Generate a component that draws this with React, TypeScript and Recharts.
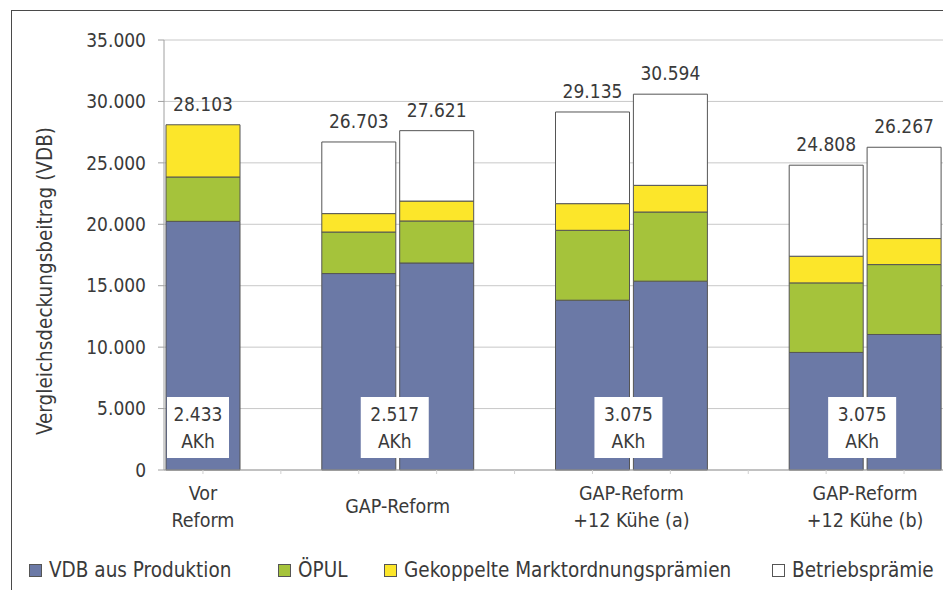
import { BarChart, Bar, XAxis, YAxis, CartesianGrid, LabelList } from "recharts";

const FONT = "'DejaVu Sans Condensed', 'DejaVu Sans', sans-serif";
const TEXT = "#3a3a3a";

// groups shown on the x axis
const groups = [
  { lines: ["Vor", "Reform"], akh: "2.433" },
  { lines: ["GAP-Reform"], akh: "2.517" },
  { lines: ["GAP-Reform", "+12 Kühe (a)"], akh: "3.075" },
  { lines: ["GAP-Reform", "+12 Kühe (b)"], akh: "3.075" },
];

// one entry per slot on the axis, null = spacer between groups
const slotGroup = [0, null, 1, 1, null, 2, 2, null, 3, 3];

// bar values, one per real bar
const vdb = [20240, 15990, 16850, 13820, 15370, 9570, 11030];
const oepul = [3610, 3380, 3420, 5690, 5630, 5660, 5690];
const gekoppelt = [4250, 1500, 1620, 2170, 2170, 2170, 2120];
const betrieb = [0, 5830, 5730, 7460, 7420, 7410, 7430];
const totals = [28103, 26703, 27621, 29135, 30594, 24808, 26267];

const yTicks = [0, 5000, 10000, 15000, 20000, 25000, 30000, 35000];

const series = [
  { key: "vdb", name: "VDB aus Produktion", color: "#6b79a6" },
  { key: "oepul", name: "ÖPUL", color: "#a5c33b" },
  { key: "gek", name: "Gekoppelte Marktordnungsprämien", color: "#fce62a" },
  { key: "bp", name: "Betriebsprämie", color: "#ffffff" },
];
const legendLeft = [29, 278, 384, 772];

const fmt = (v: number) => String(v).replace(/\B(?=(\d{3})+(?!\d))/g, ".");

let barIdx = 0;
const data = slotGroup.map((g, i) => {
  if (g === null) return { slot: "s" + i };
  const b = barIdx++;
  const first = i === 0 || slotGroup[i - 1] !== g;
  return {
    slot: "s" + i,
    vdb: vdb[b],
    oepul: oepul[b],
    gek: gekoppelt[b],
    bp: betrieb[b],
    // total label goes on whichever segment is on top
    totalGek: betrieb[b] > 0 ? null : totals[b],
    totalBp: betrieb[b] > 0 ? totals[b] : null,
    akhGroup: first ? g : null,
  };
});

const W = 943;
const H = 590;
const LEFT = 164;
const SLOT = (W - LEFT) / slotGroup.length;

const groupSize = (g: number) => slotGroup.filter((s) => s === g).length;

function XTick(props: any) {
  const { x, payload } = props;
  const i = payload.index;
  const g = slotGroup[i];
  if (g === null || (i > 0 && slotGroup[i - 1] === g)) return null;
  const cx = x + ((groupSize(g) - 1) * SLOT) / 2;
  const lines = groups[g].lines;
  const axisY = 470;
  const ys = lines.length === 1 ? [axisY + 36] : [axisY + 23, axisY + 50];
  return (
    <g>
      {lines.map((l, k) => (
        <text key={k} x={cx} y={ys[k]} textAnchor="middle" dominantBaseline="central"
          fill={TEXT} fontSize={19.5} fontFamily={FONT}>
          {l}
        </text>
      ))}
    </g>
  );
}

function AkhBox(props: any) {
  const { x, y, width, height, value } = props;
  if (value == null) return null;
  const g = value as number;
  const pair = groupSize(g) > 1;
  const cx = pair ? x + width + (SLOT - width) / 2 - 3 : x + width / 2 - 5;
  const bw = pair ? 68 : 62;
  const bottom = y + height;
  return (
    <g>
      <rect x={cx - bw / 2} y={bottom - 73} width={bw} height={61} fill="#fff" />
      <text x={cx} y={bottom - 56} textAnchor="middle" dominantBaseline="central"
        fill={TEXT} fontSize={19} fontFamily={FONT}>{groups[g].akh}</text>
      <text x={cx} y={bottom - 29} textAnchor="middle" dominantBaseline="central"
        fill={TEXT} fontSize={19} fontFamily={FONT}>AKh</text>
    </g>
  );
}

function TotalLabel(props: any) {
  const { x, y, width, value } = props;
  if (value == null) return null;
  return (
    <text x={x + width / 2} y={y - 14} textAnchor="middle" fill={TEXT} fontSize={19} fontFamily={FONT}>
      {fmt(value)}
    </text>
  );
}

export default function App() {
  return (
    <div style={{ position: "absolute", left: 0, top: 0, width: W, height: H, background: "#fff", overflow: "hidden" }}>
      <div style={{ position: "absolute", left: 11, top: 10, width: W, height: H, borderTop: "1.5px solid #4a4a4a", borderLeft: "1.5px solid #4a4a4a" }} />
      <div style={{ position: "absolute", left: 0, top: 0 }}>
        <BarChart width={W} height={H} data={data} margin={{ top: 40, right: 0, left: 0, bottom: 40 }} barCategoryGap={2}>
          <CartesianGrid vertical={false} stroke="#c8c8c8" />
          <XAxis dataKey="slot" height={80} interval={0} tick={<XTick />} tickLine={{ stroke: "#d0d0d0" }} tickSize={4}
            axisLine={{ stroke: "#a0a0a0" }} />
          <YAxis width={LEFT} domain={[0, 35000]} ticks={yTicks} interval={0} tickFormatter={fmt}
            tick={{ fill: TEXT, fontSize: 19, fontFamily: FONT }} tickSize={6} tickMargin={12}
            tickLine={{ stroke: "#a0a0a0" }} axisLine={{ stroke: "#a0a0a0" }}
            label={{
              content: () => (
                <text transform="translate(45,281) rotate(-90)" textAnchor="middle" dominantBaseline="central"
                  fill={TEXT} fontSize={20.5} fontFamily={FONT}>
                  Vergleichsdeckungsbeitrag (VDB)
                </text>
              ),
            }} />
          {series.map((s) => (
            <Bar key={s.key} dataKey={s.key} name={s.name} stackId="a" fill={s.color} stroke="#555" strokeWidth={1}
              isAnimationActive={false}>
              {s.key === "vdb" && <LabelList dataKey="akhGroup" content={<AkhBox />} />}
              {s.key === "gek" && <LabelList dataKey="totalGek" content={<TotalLabel />} />}
              {s.key === "bp" && <LabelList dataKey="totalBp" content={<TotalLabel />} />}
            </Bar>
          ))}
        </BarChart>
      </div>
      {series.map((s, i) => (
        <div key={s.key} style={{ position: "absolute", left: legendLeft[i], top: 558, display: "flex", alignItems: "center", gap: 7, fontFamily: FONT, fontSize: 20.5, color: TEXT, whiteSpace: "nowrap" }}>
          <div style={{ width: 11, height: 11, background: s.color, border: "1px solid #555" }} />
          <span>{s.name}</span>
        </div>
      ))}
    </div>
  );
}
